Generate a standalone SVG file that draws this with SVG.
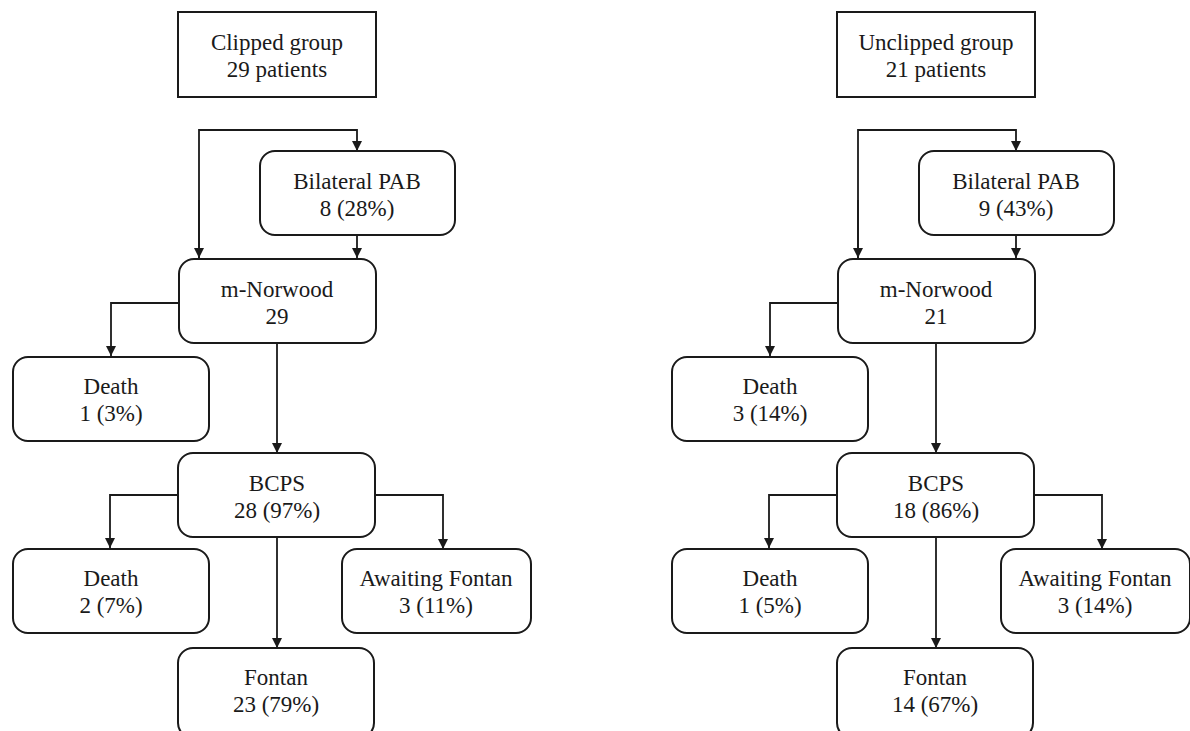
<svg xmlns="http://www.w3.org/2000/svg" width="1190" height="731" viewBox="0 0 1190 731">
<defs>
<style>
.box{fill:#fff;stroke:#1a1a1a;stroke-width:2}
.t{font-family:"Liberation Serif","Times New Roman",serif;font-size:23px;fill:#1a1a1a;text-anchor:middle}
.c{fill:none;stroke:#1a1a1a;stroke-width:1.8}
</style>
<marker id="ah" markerWidth="12" markerHeight="12" refX="10" refY="5.5" orient="auto" markerUnits="userSpaceOnUse">
<path d="M0,0.5 L10,5.5 L0,10.5 Z" fill="#1a1a1a"/>
</marker>
</defs>
<rect width="1190" height="731" fill="#fff"/>

<g id="connectors">
<g id="conn-left">
<path class="c" d="M199,258 V130 H357 V151" marker-end="url(#ah)"/>
<path class="c" d="M199,200 V258" marker-end="url(#ah)"/>
<path class="c" d="M357,235 V258" marker-end="url(#ah)"/>
<path class="c" d="M179,303 H111 V356" marker-end="url(#ah)"/>
<path class="c" d="M277,343 V453" marker-end="url(#ah)"/>
<path class="c" d="M178,495 H110 V548" marker-end="url(#ah)"/>
<path class="c" d="M375,495 H443 V549" marker-end="url(#ah)"/>
<path class="c" d="M277,537 V648" marker-end="url(#ah)"/>
</g>
<g id="conn-right" transform="translate(659,0)">
<path class="c" d="M199,258 V130 H357 V151" marker-end="url(#ah)"/>
<path class="c" d="M199,200 V258" marker-end="url(#ah)"/>
<path class="c" d="M357,235 V258" marker-end="url(#ah)"/>
<path class="c" d="M179,303 H111 V356" marker-end="url(#ah)"/>
<path class="c" d="M277,343 V453" marker-end="url(#ah)"/>
<path class="c" d="M178,495 H110 V548" marker-end="url(#ah)"/>
<path class="c" d="M375,495 H443 V549" marker-end="url(#ah)"/>
<path class="c" d="M277,537 V648" marker-end="url(#ah)"/>
</g>
</g>

<g id="clipped">
<rect class="box" x="178" y="12" width="198" height="85"/>
<text class="t" x="277" y="50">Clipped group</text>
<text class="t" x="277" y="77">29 patients</text>
</g>
<g id="pab-l">
<rect class="box" x="260" y="151" width="195" height="84" rx="15"/>
<text class="t" x="357" y="189">Bilateral PAB</text>
<text class="t" x="357" y="216">8 (28%)</text>
</g>
<g id="norwood-l">
<rect class="box" x="179" y="259" width="197" height="84" rx="15"/>
<text class="t" x="277" y="297">m-Norwood</text>
<text class="t" x="277" y="324">29</text>
</g>
<g id="death1-l">
<rect class="box" x="13" y="357" width="196" height="84" rx="15"/>
<text class="t" x="111" y="394">Death</text>
<text class="t" x="111" y="421">1 (3%)</text>
</g>
<g id="bcps-l">
<rect class="box" x="178" y="453" width="197" height="84" rx="15"/>
<text class="t" x="277" y="491">BCPS</text>
<text class="t" x="277" y="518">28 (97%)</text>
</g>
<g id="death2-l">
<rect class="box" x="13" y="549" width="196" height="84" rx="15"/>
<text class="t" x="111" y="586">Death</text>
<text class="t" x="111" y="613">2 (7%)</text>
</g>
<g id="await-l">
<rect class="box" x="342" y="549" width="189" height="84" rx="15"/>
<text class="t" x="436" y="586">Awaiting Fontan</text>
<text class="t" x="436" y="613">3 (11%)</text>
</g>
<g id="fontan-l">
<rect class="box" x="178" y="648" width="196" height="90" rx="15"/>
<text class="t" x="276" y="685">Fontan</text>
<text class="t" x="276" y="712">23 (79%)</text>
</g>

<g id="unclipped">
<rect class="box" x="837" y="12" width="198" height="85"/>
<text class="t" x="936" y="50">Unclipped group</text>
<text class="t" x="936" y="77">21 patients</text>
</g>
<g id="pab-r">
<rect class="box" x="919" y="151" width="195" height="84" rx="15"/>
<text class="t" x="1016" y="189">Bilateral PAB</text>
<text class="t" x="1016" y="216">9 (43%)</text>
</g>
<g id="norwood-r">
<rect class="box" x="838" y="259" width="197" height="84" rx="15"/>
<text class="t" x="936" y="297">m-Norwood</text>
<text class="t" x="936" y="324">21</text>
</g>
<g id="death1-r">
<rect class="box" x="672" y="357" width="196" height="84" rx="15"/>
<text class="t" x="770" y="394">Death</text>
<text class="t" x="770" y="421">3 (14%)</text>
</g>
<g id="bcps-r">
<rect class="box" x="837" y="453" width="197" height="84" rx="15"/>
<text class="t" x="936" y="491">BCPS</text>
<text class="t" x="936" y="518">18 (86%)</text>
</g>
<g id="death2-r">
<rect class="box" x="672" y="549" width="196" height="84" rx="15"/>
<text class="t" x="770" y="586">Death</text>
<text class="t" x="770" y="613">1 (5%)</text>
</g>
<g id="await-r">
<rect class="box" x="1001" y="549" width="189" height="84" rx="15"/>
<text class="t" x="1095" y="586">Awaiting Fontan</text>
<text class="t" x="1095" y="613">3 (14%)</text>
</g>
<g id="fontan-r">
<rect class="box" x="837" y="648" width="196" height="90" rx="15"/>
<text class="t" x="935" y="685">Fontan</text>
<text class="t" x="935" y="712">14 (67%)</text>
</g>
</svg>
